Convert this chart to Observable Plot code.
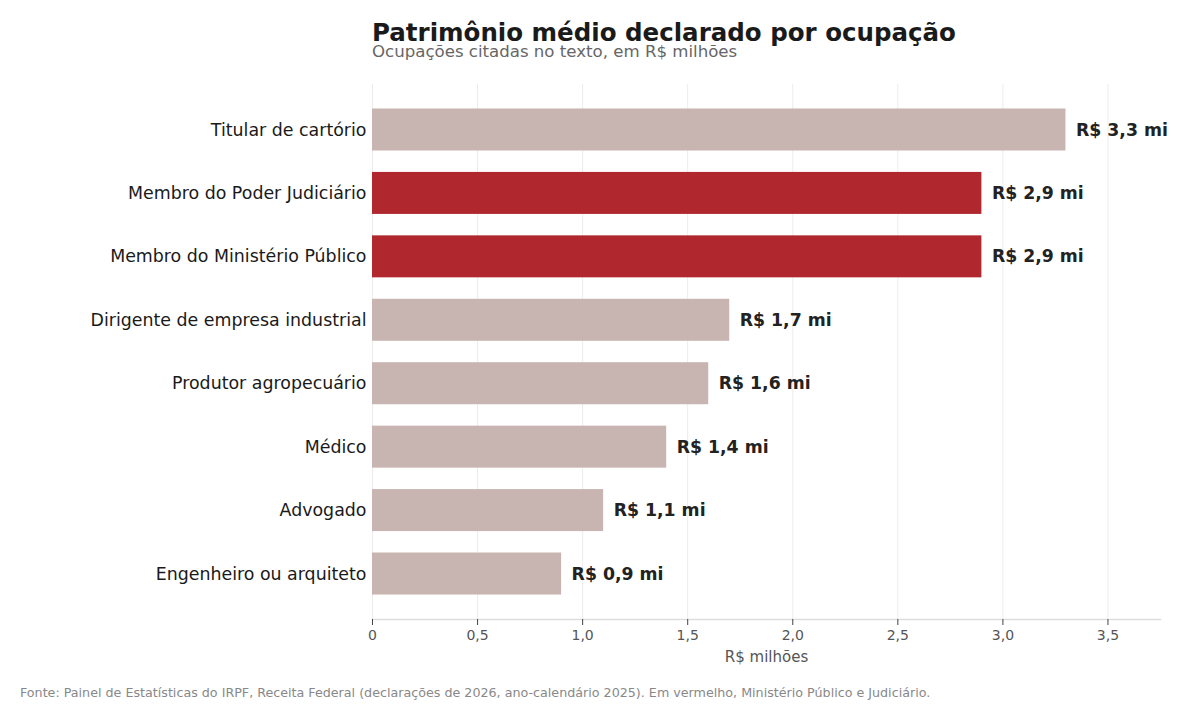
<!DOCTYPE html>
<html>
<head>
<meta charset="utf-8">
<script src="https://cdn.jsdelivr.net/npm/d3@7"></script>
<script src="https://cdn.jsdelivr.net/npm/@observablehq/plot@0.6"></script>
<style>
  body { margin: 0; background: #fff; font-family: "DejaVu Sans", sans-serif; }
  #wrap { position: relative; width: 1199px; height: 716px; }
  #head { height: 70px; position: relative; }
  #title { position: absolute; left: 372px; top: 21px; font-size: 24.5px; font-weight: bold; color: #1a1a1a; line-height: 1; }
  #subtitle { position: absolute; left: 372px; top: 44px; font-size: 16.6px; color: #666; line-height: 1; }
  #chart svg { display: block; }
  #foot { position: absolute; left: 20px; top: 685px; font-size: 12.7px; color: #888; }
</style>
</head>
<body>
<div id="wrap">
  <div id="head">
    <div id="title">Patrimônio médio declarado por ocupação</div>
    <div id="subtitle">Ocupações citadas no texto, em R$ milhões</div>
  </div>
  <div id="chart"></div>
  <div id="foot">Fonte: Painel de Estatísticas do IRPF, Receita Federal (declarações de 2026, ano-calendário 2025). Em vermelho, Ministério Público e Judiciário.</div>
</div>
<script>
// Average declared wealth by occupation (R$ millions)
const occupations = [
  "Titular de cartório",
  "Membro do Poder Judiciário",
  "Membro do Ministério Público",
  "Dirigente de empresa industrial",
  "Produtor agropecuário",
  "Médico",
  "Advogado",
  "Engenheiro ou arquiteto"
];
const values = [3.3, 2.9, 2.9, 1.7, 1.6, 1.4, 1.1, 0.9];
const highlighted = ["Membro do Poder Judiciário", "Membro do Ministério Público"];
const xTicks = [0, 0.5, 1, 1.5, 2, 2.5, 3, 3.5];
const xTitle = "R$ milhões";

const data = occupations.map((name, i) => ({
  name,
  value: values[i],
  highlight: highlighted.includes(name)
}));

const fmtDec = v => v === 0 ? "0" : v.toFixed(1).replace(".", ",");

const chart = Plot.plot({
  width: 1199,
  height: 600,
  marginLeft: 372,
  marginRight: 39,
  marginTop: 14,
  marginBottom: 51,
  style: { fontFamily: "DejaVu Sans, sans-serif", background: "#fff" },
  x: { domain: [0, 3.75], ticks: xTicks, tickFormat: fmtDec, label: null },
  y: { domain: occupations, paddingInner: 0.338, paddingOuter: 0.386, round: false, label: null },
  marks: [
    // vertical grid
    Plot.ruleX(xTicks, { x: d => d, stroke: "#ececec" }),
    Plot.barX(data, {
      y: "name",
      x: "value",
      fill: d => d.highlight ? "#b0272e" : "#c8b4b1"
    }),
    Plot.text(data, {
      y: "name",
      x: "value",
      text: d => `R$ ${fmtDec(d.value)} mi`,
      textAnchor: "start",
      dx: 10,
      fontSize: 17.3,
      fontWeight: "bold",
      fill: "#222"
    }),
    // baseline under the bars
    Plot.frame({ anchor: "bottom", stroke: "#ddd", strokeWidth: 1.5 }),
    Plot.axisX({
      ticks: xTicks,
      tickFormat: fmtDec,
      tickSize: 6,
      tickPadding: 5,
      fontSize: 14,
      color: "#555",
      stroke: "#444",
      label: null
    }),
    // x-axis title
    Plot.text([xTitle], {
      text: d => d,
      frameAnchor: "bottom",
      lineAnchor: "middle",
      dy: 38,
      fontSize: 15,
      fill: "#555"
    }),
    Plot.axisY({
      tickSize: 0,
      tickPadding: 6,
      fontSize: 17.4,
      color: "#1a1a1a",
      label: null
    })
  ]
});
document.getElementById("chart").appendChild(chart);
</script>
</body>
</html>
